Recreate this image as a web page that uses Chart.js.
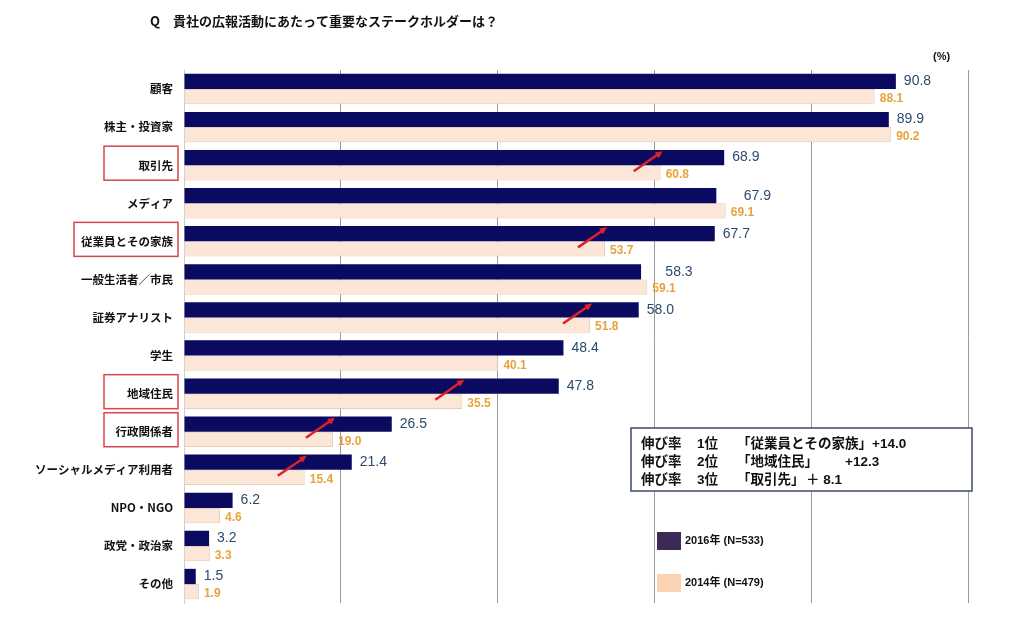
<!DOCTYPE html>
<html>
<head>
<meta charset="utf-8">
<script src="https://cdn.jsdelivr.net/npm/chart.js@4"></script>
<style>
  html, body { margin: 0; padding: 0; background: #fff; }
  #wrap { width: 1024px; height: 621px; }
</style>
</head>
<body>
<div id="wrap"><canvas id="stakeChart" width="1024" height="621"></canvas></div>
<script>
// data
const categories = ['顧客', '株主・投資家', '取引先', 'メディア', '従業員とその家族', '一般生活者／市民',
  '証券アナリスト', '学生', '地域住民', '行政関係者', 'ソーシャルメディア利用者', 'NPO・NGO', '政党・政治家', 'その他'];
const values2016 = [90.8, 89.9, 68.9, 67.9, 67.7, 58.3, 58.0, 48.4, 47.8, 26.5, 21.4, 6.2, 3.2, 1.5];
const values2014 = [88.1, 90.2, 60.8, 69.1, 53.7, 59.1, 51.8, 40.1, 35.5, 19.0, 15.4, 4.6, 3.3, 1.9];
const xTicks = [0, 20, 40, 60, 80, 100];
const seriesLabels = ['2016年 (N=533)', '2014年 (N=479)'];
const boxedCategories = ['取引先', '従業員とその家族', '地域住民', '行政関係者'];
const arrowCategories = ['取引先', '従業員とその家族', '証券アナリスト', '地域住民', '行政関係者', 'ソーシャルメディア利用者'];
const growthRows = [
  ['伸び率', '1位', '「従業員とその家族」+14.0', ''],
  ['伸び率', '2位', '「地域住民」', '+12.3'],
  ['伸び率', '3位', '「取引先」', '＋ 8.1']
];
const titleText = 'Q　貴社の広報活動にあたって重要なステークホルダーは？';

const NAVY = '#0a0a60';
const PEACH = '#fce6d8';
const JP = '"Noto Sans CJK JP", sans-serif';
const NUM = '"Liberation Sans", "Noto Sans CJK JP", sans-serif';

const overlay = {
  id: 'overlay',
  afterDatasetsDraw(chart) {
    const ctx = chart.ctx;
    const xs = chart.scales.x, ys = chart.scales.y;
    const m16 = chart.getDatasetMeta(0), m14 = chart.getDatasetMeta(1);
    ctx.save();
    ctx.textBaseline = 'middle';
    ctx.textAlign = 'left';
    categories.forEach((c, i) => {
      const b16 = m16.data[i], b14 = m14.data[i];
      // 2016 labels
      let lx = b16.x + 8;
      if (values2014[i] > values2016[i] + 0.5) lx = b14.x + 18;
      ctx.font = '14px ' + NUM;
      ctx.fillStyle = '#2d4a70';
      ctx.fillText(values2016[i].toFixed(1), lx, b16.y);
      // 2014 labels
      ctx.font = 'bold 12px ' + NUM;
      ctx.fillStyle = '#e9a23b';
      ctx.fillText(values2014[i].toFixed(1), b14.x + 5, b14.y + 2);
    });
    // red arrows
    ctx.strokeStyle = '#e0202a';
    ctx.fillStyle = '#e0202a';
    ctx.lineWidth = 2.5;
    arrowCategories.forEach(c => {
      const i = categories.indexOf(c);
      const cy = ys.getPixelForValue(i);
      const tx = xs.getPixelForValue(values2014[i]) + 2, ty = cy - 14;
      const sx = tx - 29, sy = cy + 6;
      const ang = Math.atan2(ty - sy, tx - sx);
      ctx.beginPath();
      ctx.moveTo(sx, sy);
      ctx.lineTo(tx - 5 * Math.cos(ang), ty - 5 * Math.sin(ang));
      ctx.stroke();
      ctx.beginPath();
      ctx.moveTo(tx, ty);
      ctx.lineTo(tx - 8 * Math.cos(ang - 0.45), ty - 8 * Math.sin(ang - 0.45));
      ctx.lineTo(tx - 8 * Math.cos(ang + 0.45), ty - 8 * Math.sin(ang + 0.45));
      ctx.closePath();
      ctx.fill();
    });
    ctx.restore();
  },
  afterDraw(chart) {
    const ctx = chart.ctx;
    const ys = chart.scales.y;
    const area = chart.chartArea;
    ctx.save();
    // title
    ctx.fillStyle = '#111';
    ctx.textBaseline = 'middle';
    ctx.font = 'bold 13px ' + JP;
    ctx.fillText(titleText, 150, 21);
    // unit
    ctx.font = 'bold 11px ' + NUM;
    ctx.fillText('(%)', 933, 57);
    // red boxes round some category labels
    ctx.font = 'bold 11.5px ' + JP;
    ctx.strokeStyle = '#d9454a';
    ctx.lineWidth = 1.5;
    boxedCategories.forEach(c => {
      const i = categories.indexOf(c);
      const cy = ys.getPixelForValue(i) - 2;
      const w = Math.max(ctx.measureText(c).width + 12, 74);
      const right = area.left - 6;
      ctx.strokeRect(right - w, cy - 17, w, 34);
    });
    // growth text box
    ctx.fillStyle = '#fff';
    ctx.fillRect(631, 428, 341, 63);
    ctx.strokeStyle = '#3c4a68';
    ctx.lineWidth = 1.5;
    ctx.strokeRect(631, 428, 341, 63);
    ctx.fillStyle = '#111';
    ctx.font = 'bold 13.5px ' + NUM;
    const cols = [641, 697, 737];
    growthRows.forEach((r, k) => {
      const y = 444 + k * 18;
      ctx.fillText(r[0], cols[0], y);
      ctx.fillText(r[1], cols[1], y);
      ctx.fillText(r[2], cols[2], y);
      if (r[3]) ctx.fillText(r[3], k === 1 ? 845 : 806, y);
    });
    // legend
    const sw = ['#3b2a55', '#fad3b5'];
    seriesLabels.forEach((s, k) => {
      const y = 541 + k * 42;
      ctx.fillStyle = sw[k];
      ctx.fillRect(657, y - 9, 24, 18);
      ctx.fillStyle = '#111';
      ctx.font = 'bold 11px ' + NUM;
      ctx.fillText(s, 685, y);
    });
    ctx.restore();
  }
};

new Chart(document.getElementById('stakeChart'), {
  type: 'bar',
  data: {
    labels: categories,
    datasets: [{
      label: seriesLabels[0],
      data: values2016,
      backgroundColor: NAVY,
      borderWidth: 0
    }, {
      label: seriesLabels[1],
      data: values2014,
      backgroundColor: PEACH,
      borderColor: '#e8cdb9',
      borderWidth: 1
    }]
  },
  options: {
    indexAxis: 'y',
    responsive: false,
    animation: false,
    devicePixelRatio: 1,
    categoryPercentage: 0.8,
    barPercentage: 1.0,
    layout: { padding: { top: 70, right: 56, bottom: 16, left: 0 } },
    plugins: { legend: { display: false }, tooltip: { enabled: false } },
    scales: {
      x: {
        min: 0, max: 100,
        afterBuildTicks: s => { s.ticks = xTicks.map(v => ({ value: v })); },
        afterFit: s => { s.height = 0; },
        ticks: { display: false },
        grid: { color: '#9a9a9a', lineWidth: 1, drawTicks: false },
        border: { display: false }
      },
      y: {
        afterFit: s => { s.width = 184; },
        ticks: {
          color: '#111',
          padding: 11,
          font: { family: '"Noto Sans CJK JP"', size: 11.5, weight: 'bold' }
        },
        grid: { display: false, drawTicks: false },
        border: { display: true, color: '#cccccc' }
      }
    }
  },
  plugins: [overlay]
});
</script>
</body>
</html>
